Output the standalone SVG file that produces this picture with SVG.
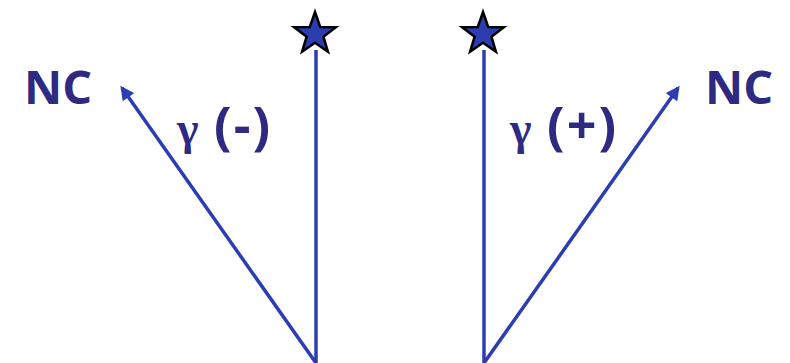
<svg xmlns="http://www.w3.org/2000/svg" width="790" height="363" viewBox="0 0 790 363">
<style>
.ln{stroke:#2b3db0;stroke-width:3.5;fill:none}
.lbl{font-family:"Open Sans","Noto Sans",sans-serif;font-weight:bold;fill:#2e2a82}
.g{font-family:"Liberation Serif","DejaVu Serif",serif;font-weight:bold}
.star{fill:#2b3db0;stroke:#000;stroke-width:2.5;stroke-linejoin:miter}
</style>
<defs>
<marker id="ah" viewBox="0 0 10 10" refX="8" refY="5" markerWidth="16" markerHeight="14" orient="auto" markerUnits="userSpaceOnUse">
<path d="M0,0 L10,5 L0,10 Z" fill="#2b3db0"/>
</marker>
<polygon id="st" points="0,-22 5.2,-7.1 20.9,-6.8 8.4,2.7 12.9,17.8 0,8.8 -12.9,17.8 -8.4,2.7 -20.9,-6.8 -5.2,-7.1"/>
</defs>
<g id="connectors">
<line class="ln" x1="316" y1="363" x2="316" y2="50"/>
<line class="ln" x1="484" y1="363" x2="484" y2="50"/>
<line class="ln" x1="316" y1="363" x2="122" y2="88" marker-end="url(#ah)"/>
<line class="ln" x1="484" y1="363" x2="678" y2="88" marker-end="url(#ah)"/>
</g>
<g id="star-left"><use href="#st" class="star" x="315" y="34"/></g>
<g id="star-right"><use href="#st" class="star" x="483" y="34"/></g>
<g id="nc-left"><text class="lbl" x="24" y="104" font-size="47">NC</text></g>
<g id="nc-right"><text class="lbl" x="705" y="104" font-size="47">NC</text></g>
<g id="gamma-minus"><text class="lbl" x="177" y="144" font-size="52" letter-spacing="2"><tspan class="g" font-size="46" letter-spacing="0">γ</tspan> (-)</text></g>
<g id="gamma-plus"><text class="lbl" x="510" y="144" font-size="52" letter-spacing="2"><tspan class="g" font-size="46" letter-spacing="0">γ</tspan> (+)</text></g>
</svg>
